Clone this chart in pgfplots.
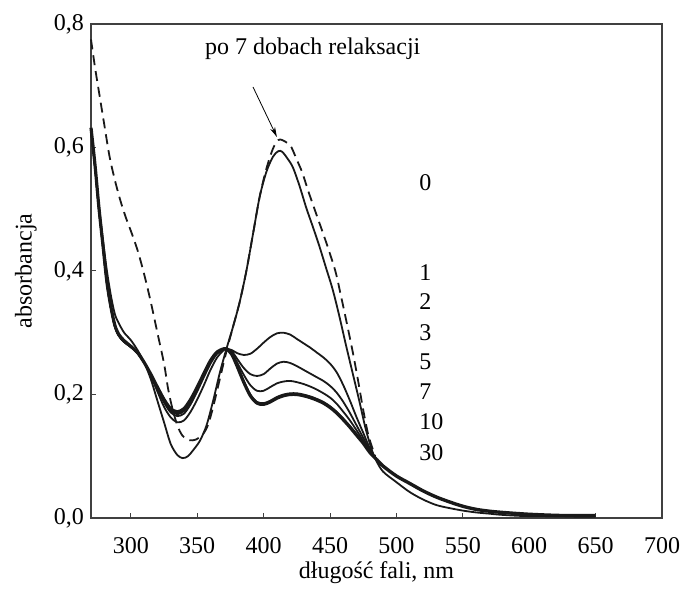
\documentclass[border=0pt]{standalone}
\usepackage{fontspec}
\setmainfont{Liberation Serif}
\usepackage{pgfplots}
\pgfplotsset{compat=1.18}
\usetikzlibrary{arrows.meta}

% tails shared by the relaxed curves (1..30) beyond the point at 485 nm
\pgfplotstableread{
x y
485 0.095
490 0.084
500 0.068
510 0.056
520 0.044
530 0.034
540 0.026
550 0.019
560 0.014
570 0.011
580 0.009
600 0.006
625 0.004
650 0.004
}\tailgroup

\begin{document}
\begin{tikzpicture}[font=\fontsize{12}{14.4}\selectfont]
\begin{axis}[
  scale only axis,
  width=285.5pt, height=247pt,
  xmin=270, xmax=700, ymin=0, ymax=0.8,
  xtick={300,350,...,700},
  ytick={0,0.2,0.4,0.6,0.8},
  tick pos=left, tick align=inside,
  major tick length=2.5pt,
  axis line style={black!75, line width=0.6pt},
  every tick/.style={black!75, line width=0.5pt},
  /pgf/number format/assume math mode=true,
  /pgf/number format/use comma,
  yticklabel style={/pgf/number format/fixed, /pgf/number format/fixed zerofill, /pgf/number format/precision=1},
  xticklabel style={yshift=-6pt},
  xlabel={długość fali, nm},
  ylabel={absorbancja},
  xlabel style={at={(axis description cs:0.5,-0.111)}, anchor=center},
  ylabel style={at={(axis description cs:-0.114,0.5)}, anchor=center},
  spec/.style={black!90, line width=0.9pt, smooth, mark=none},
  clip=false,
]
% 0
\addplot[spec] coordinates {
(270,0.63)(273,0.57)(276,0.505)(279,0.45)(282,0.40)(285,0.36)(288,0.33)(291,0.315)
(295,0.30)(300,0.288)(305,0.272)(310,0.252)(315,0.225)(320,0.19)(325,0.155)(330,0.12)
(335,0.102)(339,0.097)(343,0.100)(347,0.11)(352,0.125)(357,0.15)(362,0.19)(367,0.235)
(372,0.274)(377,0.31)(382,0.35)(387,0.40)(392,0.46)(397,0.52)(402,0.56)(407,0.585)
(411,0.594)(414,0.593)(418,0.582)(422,0.568)(427,0.538)(432,0.503)(437,0.472)(442,0.44)
(447,0.405)(452,0.37)(457,0.327)(462,0.28)(467,0.235)(472,0.19)(477,0.143)(482,0.107)
(485,0.092)(490,0.075)(500,0.058)(510,0.042)(520,0.03)(530,0.021)(540,0.016)(550,0.012)
(560,0.009)(570,0.007)(580,0.005)(600,0.003)(650,0.002)
};
% 1
\addplot[spec] coordinates {
(270,0.63)(273,0.57)(276,0.50)(279,0.44)(282,0.38)(285,0.34)(288,0.31)(291,0.295)
(295,0.285)(300,0.277)(305,0.267)(310,0.252)(315,0.23)(320,0.205)(325,0.18)(330,0.163)
(335,0.155)(340,0.158)(345,0.172)(350,0.192)(355,0.215)(360,0.24)(365,0.26)(370,0.272)
(372,0.274)(376,0.272)(380,0.267)(385,0.264)(390,0.266)(395,0.274)(400,0.284)(405,0.293)
(410,0.299)(415,0.3)(420,0.297)(425,0.29)(430,0.283)(435,0.276)(440,0.268)(445,0.26)
(450,0.25)(455,0.236)(460,0.215)(465,0.19)(470,0.163)(475,0.138)(480,0.113)(485,0.095)
};
\addplot[spec, line width=1.7pt] table {\tailgroup};
% 2
\addplot[spec] coordinates {
(270,0.63)(273,0.57)(276,0.50)(279,0.44)(282,0.38)(285,0.34)(288,0.31)(291,0.295)
(295,0.285)(300,0.277)(305,0.267)(310,0.252)(315,0.232)(320,0.209)(325,0.187)(330,0.171)
(335,0.165)(340,0.169)(345,0.184)(350,0.205)(355,0.228)(360,0.25)(365,0.266)(370,0.273)
(372,0.274)(376,0.27)(380,0.258)(385,0.243)(390,0.233)(395,0.23)(400,0.233)(405,0.242)
(410,0.25)(415,0.253)(420,0.251)(425,0.246)(430,0.24)(435,0.234)(440,0.228)(445,0.222)
(450,0.214)(455,0.203)(460,0.188)(465,0.17)(470,0.15)(475,0.13)(480,0.11)(485,0.095)
};
% 3
\addplot[spec] coordinates {
(270,0.63)(273,0.57)(276,0.50)(279,0.44)(282,0.38)(285,0.34)(288,0.31)(291,0.295)
(295,0.285)(300,0.277)(305,0.267)(310,0.252)(315,0.232)(320,0.21)(325,0.189)(330,0.174)
(335,0.168)(340,0.173)(345,0.188)(350,0.208)(355,0.231)(360,0.252)(365,0.267)(370,0.274)
(372,0.274)(376,0.268)(380,0.252)(385,0.232)(390,0.215)(395,0.206)(400,0.206)(405,0.212)
(410,0.218)(415,0.221)(420,0.222)(425,0.22)(430,0.217)(435,0.213)(440,0.208)(445,0.202)
(450,0.195)(455,0.185)(460,0.172)(465,0.158)(470,0.142)(475,0.125)(480,0.108)(485,0.095)
};
% 5, 7
\addplot[spec] coordinates {
(270,0.63)(273,0.57)(276,0.50)(279,0.44)(282,0.38)(285,0.34)(288,0.31)(291,0.295)
(295,0.285)(300,0.277)(305,0.267)(310,0.252)(315,0.232)(320,0.21)(325,0.19)(330,0.175)
(335,0.170)(340,0.175)(345,0.19)(350,0.21)(355,0.232)(360,0.253)(365,0.268)(370,0.274)
(372,0.274)(376,0.266)(380,0.248)(385,0.222)(390,0.2)(395,0.188)(400,0.186)(405,0.19)
(410,0.196)(415,0.2)(420,0.202)(425,0.202)(430,0.2)(435,0.197)(440,0.193)(445,0.188)
(450,0.181)(455,0.172)(460,0.161)(465,0.149)(470,0.136)(475,0.122)(480,0.107)(485,0.095)
};
% 10, 30
\addplot[spec, line width=1.6pt] coordinates {
(270,0.632)(273,0.572)(276,0.502)(279,0.442)(282,0.382)(285,0.342)(288,0.312)(291,0.297)
(295,0.287)(300,0.278)(305,0.268)(310,0.252)(315,0.233)(320,0.212)(325,0.192)(330,0.177)
(335,0.172)(340,0.177)(345,0.192)(350,0.212)(355,0.234)(360,0.255)(365,0.269)(370,0.274)
(372,0.274)(376,0.265)(380,0.246)(385,0.22)(390,0.198)(395,0.186)(400,0.184)(405,0.188)
(410,0.194)(415,0.198)(420,0.2)(425,0.2)(430,0.198)(435,0.195)(440,0.191)(445,0.186)
(450,0.179)(455,0.17)(460,0.159)(465,0.147)(470,0.134)(475,0.121)(480,0.106)(485,0.095)
};
% po 7 dobach relaksacji
\addplot[spec, dash pattern=on 5pt off 3pt] coordinates {
(270,0.775)(273,0.73)(276,0.69)(280,0.637)(284,0.585)(288,0.547)(292,0.515)(296,0.488)
(300,0.465)(305,0.434)(310,0.395)(315,0.35)(320,0.3)(325,0.25)(328,0.21)(331,0.18)
(335,0.15)(339,0.133)(344,0.126)(349,0.127)(354,0.135)(358,0.15)(362,0.18)(367,0.225)
(372,0.27)(377,0.31)(382,0.35)(387,0.40)(392,0.46)(397,0.52)(402,0.565)(407,0.598)
(411,0.612)(414,0.612)(418,0.607)(421,0.6)(425,0.58)(429,0.56)(434,0.527)(440,0.49)
(447,0.447)(454,0.4)(458,0.362)(462,0.322)(467,0.27)(471,0.224)(475,0.175)(479,0.133)
(484,0.1)
};

\node at (axis cs:437,0.76) {po 7 dobach relaksacji};
\draw[black, line width=0.4pt, -{Stealth[length=5pt,width=2.6pt]}] (axis cs:392,0.698) -- (axis cs:410,0.617);

\node[anchor=west, inner sep=0pt] at (axis cs:517,0.5435) {0};
\node[anchor=west, inner sep=0pt] at (axis cs:517,0.398) {1};
\node[anchor=west, inner sep=0pt] at (axis cs:517,0.35) {2};
\node[anchor=west, inner sep=0pt] at (axis cs:517,0.30) {3};
\node[anchor=west, inner sep=0pt] at (axis cs:517,0.253) {5};
\node[anchor=west, inner sep=0pt] at (axis cs:517,0.205) {7};
\node[anchor=west, inner sep=0pt] at (axis cs:517,0.156) {10};
\node[anchor=west, inner sep=0pt] at (axis cs:517,0.106) {30};
\end{axis}
\pgfresetboundingbox
\path[use as bounding box] ([xshift=-45.5pt,yshift=-36pt]current axis.south west) rectangle ([xshift=10pt,yshift=12pt]current axis.north east);
\end{tikzpicture}
\end{document}
